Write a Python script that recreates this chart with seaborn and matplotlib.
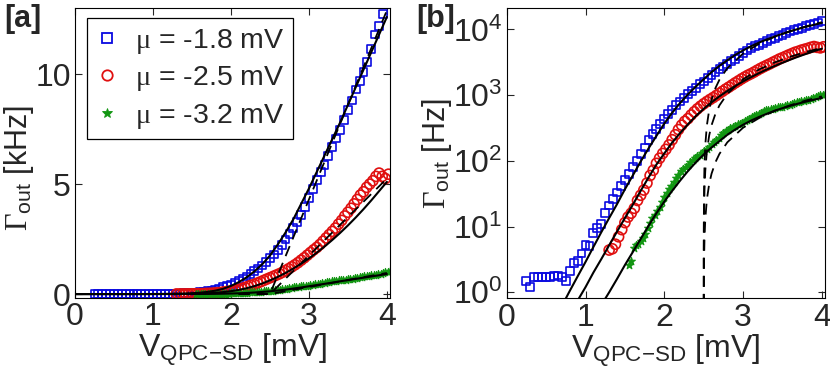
import numpy as np
import pandas as pd
import matplotlib
matplotlib.use("Agg")
import matplotlib.pyplot as plt
import seaborn as sns
from matplotlib.lines import Line2D

# ---------------- data (rates in Hz) ----------------
labels = [r"$\mu$ = -1.8 mV", r"$\mu$ = -2.5 mV", r"$\mu$ = -3.2 mV"]
colors = ["#0a0ae0", "#e01010", "#129612"]

V_blue = np.round(np.arange(0.25, 4.001, 0.05), 2)
rate_blue = [1.5, 1.2, 1.7, 1.7, 1.7, 1.7, 1.7, 1.75, 1.8, 1.7,
             1.5, 2.1, 2.8, 3.0, 3.9, 5.2, 5.0, 7.9, 9.5, 11,
             16, 21, 26, 33, 41, 52, 64, 80, 100, 128,
             160, 205, 255, 305, 360, 430, 510, 600, 700, 800,
             910, 1030, 1160, 1300, 1460, 1620, 1800, 2000, 2230, 2480,
             2740, 3000, 3270, 3580, 3960, 4380, 4780, 5200, 5550, 5880,
             6270, 6680, 7070, 7470, 7900, 8350, 8800, 9300, 9700, 10100,
             10550, 11150, 11800, 12200, 12750, 13500]

V_red = np.round(np.arange(1.30, 4.021, 0.04), 2)
rate_red = [4.4, 4.6, 5.4, 7.0, 9.0, 11.5, 14, 16, 19, 25,
            30, 36, 46, 60, 72, 92, 110, 130, 150, 175,
            210, 250, 300, 350, 400, 440, 500, 560, 620, 680,
            740, 800, 860, 920, 990, 1070, 1150, 1240, 1330, 1430,
            1540, 1650, 1770, 1890, 2010, 2120, 2250, 2400, 2550, 2700,
            2850, 3000, 3180, 3350, 3550, 3720, 3900, 4100, 4300, 4500,
            4650, 4850, 5000, 5150, 5350, 5500, 5350, 5250, 5450]

V_green = np.round(np.arange(1.55, 4.041, 0.03), 2)
rate_green = [2.6, 3.0, 4.8, 5.2, 5.5, 6.0, 6.8, 7.8, 9.5, 11.5,
              13.5, 15, 17, 20, 24, 28, 33, 38, 42, 48,
              55, 62, 70, 76, 82, 88, 95, 105, 112, 118,
              125, 132, 140, 150, 165, 180, 195, 210, 225, 245,
              265, 285, 300, 315, 330, 345, 360, 370, 380, 400,
              420, 440, 460, 480, 500, 520, 545, 565, 585, 600,
              615, 625, 640, 650, 660, 670, 685, 700, 720, 740,
              760, 780, 800, 815, 830, 845, 860, 880, 900, 930,
              960, 990, 1020, 1060]

# solid fit curves
V_fit = np.round(np.arange(0.0, 4.041, 0.1), 1)
fit_blue = [0.018, 0.03, 0.05, 0.08, 0.135, 0.225, 0.37, 0.62, 1.05, 1.75,
            2.9, 4.9, 8.2, 13.5, 22, 37, 60, 98, 155, 240,
            370, 540, 760, 1030, 1350, 1750, 2250, 2800, 3400, 4100,
            4800, 5550, 6300, 7050, 7800, 8600, 9400, 10200, 11000, 11800,
            12600]
fit_red = [0.01, 0.016, 0.026, 0.042, 0.068, 0.11, 0.18, 0.29, 0.46, 0.75,
           1.2, 2.0, 3.2, 5.2, 8.4, 13.5, 21.5, 35, 56, 88,
           130, 190, 265, 360, 480, 620, 780, 960, 1160, 1380,
           1620, 1880, 2160, 2460, 2780, 3120, 3480, 3860, 4260, 4680,
           5100]
fit_green = [0.0025, 0.004, 0.0064, 0.01, 0.016, 0.025, 0.04, 0.064, 0.10, 0.16,
             0.26, 0.40, 0.64, 1.0, 1.6, 2.6, 4.1, 6.5, 10.3, 16,
             24, 35, 50, 70, 95, 125, 160, 200, 250, 300,
             355, 410, 465, 520, 580, 635, 690, 745, 800, 855,
             910]

# dashed (linear-onset) fit curves
V_dash = [2.1, 2.5, 2.501, 2.505, 2.51, 2.52, 2.54, 2.57, 2.6, 2.65,
          2.7, 2.8, 3.0, 3.2, 3.4, 3.6, 3.8, 4.0]
dash_blue = [0, 0, 8.6, 43, 86, 172, 344, 602, 860, 1290,
             1720, 2580, 4300, 6020, 7740, 9460, 11180, 12900]
dash_red = [0, 0, 3.5, 17.5, 35, 70, 140, 245, 350, 525,
            700, 1050, 1750, 2450, 3150, 3850, 4550, 5250]
dash_green = [0, 0, 0.64, 3.2, 6.4, 12.8, 25.6, 44.8, 64, 96,
              128, 192, 320, 448, 576, 704, 832, 960]

# ---------------- style ----------------
sns.set_style("ticks")
plt.rcParams["font.family"] = ["Liberation Sans Narrow", "Liberation Sans", "DejaVu Sans"]
plt.rcParams["mathtext.fontset"] = "custom"
plt.rcParams["mathtext.rm"] = "Liberation Serif"
plt.rcParams["mathtext.it"] = "Liberation Serif"
plt.rcParams["mathtext.sf"] = "Liberation Sans"
plt.rcParams["axes.linewidth"] = 0.8

fig = plt.figure(figsize=(8.3, 3.76), dpi=100)
ax1 = fig.add_axes([0.0904, 0.2074, 0.3795, 0.771])
ax2 = fig.add_axes([0.6105, 0.2065, 0.3835, 0.7714])

series = [
    (V_blue, rate_blue, fit_blue, dash_blue, "s", 32),
    (V_red, rate_red, fit_red, dash_red, "o", 52),
    (V_green, rate_green, fit_green, dash_green, "*", 34),
]

for ax, scale in [(ax1, 1000.0), (ax2, 1.0)]:
    for (V, r, fit, dsh, mk, sz), col in zip(series, colors):
        y = np.asarray(r, float) / scale
        sns.scatterplot(x=V, y=y, marker=mk, s=sz, ax=ax, linewidth=1.2,
                        legend=False, zorder=2)
        coll = ax.collections[-1]
        if mk == "*":
            coll.set_facecolor(col)
            coll.set_edgecolor(col)
            coll.set_linewidth(0.8)
        else:
            coll.set_facecolor("none")
            coll.set_edgecolor(col)
    for (V, r, fit, dsh, mk, sz) in series:
        sns.lineplot(x=V_fit, y=np.asarray(fit, float) / scale, color="k",
                     lw=1.5, ax=ax, estimator=None, sort=False, zorder=3)
        sns.lineplot(x=V_dash, y=np.asarray(dsh, float) / scale, color="k",
                     lw=1.3, ax=ax, estimator=None, sort=False, zorder=3)
        ax.lines[-1].set_dashes([6, 4])

# ---------------- axes ----------------
ax1.set_xlim(0, 4.04)
ax1.set_ylim(-0.18, 13.0)
ax1.set_xticks([0, 1, 2, 3, 4])
ax1.set_yticks([0, 5, 10])

ax2.set_yscale("log")
ax2.set_xlim(0, 4.04)
ax2.set_ylim(0.81, 2.1e4)
ax2.set_xticks([0, 1, 2, 3, 4])
ax2.set_yticks([1, 10, 100, 1000, 10000])

for ax in (ax1, ax2):
    ax.tick_params(which="major", direction="in", length=5, width=0.8,
                   top=True, right=True, labelsize=23, pad=3)
    ax.tick_params(which="minor", direction="in", length=3, width=0.6,
                   top=False, right=True, left=True)
    for sp in ax.spines.values():
        sp.set_color("k")
        sp.set_linewidth(0.8)
    ax.set_xlabel(r"$\mathsf{V}_{\mathsf{QPC{-}SD}}$ [mV]", fontsize=23, labelpad=0)

ax1.set_ylabel(r"$\Gamma_{\mathsf{out}}$ [kHz]", fontsize=22)
ax2.set_ylabel(r"$\Gamma_{\mathsf{out}}$ [Hz]", fontsize=22)
ax1.yaxis.set_label_coords(-0.125, 0.45)
ax2.yaxis.set_label_coords(-0.165, 0.5)

handles = [
    Line2D([], [], ls="", marker="s", mfc="none", mec=colors[0], ms=6.5, mew=1.3),
    Line2D([], [], ls="", marker="o", mfc="none", mec=colors[1], ms=7.5, mew=1.3),
    Line2D([], [], ls="", marker="*", mfc=colors[2], mec=colors[2], ms=7.5, mew=0.6),
]
leg = ax1.legend(handles, labels, loc="upper left", bbox_to_anchor=(0.038, 0.966),
                 borderaxespad=0, fontsize=20.5, frameon=True, fancybox=False,
                 edgecolor="k", framealpha=1, handlelength=0.8, handletextpad=0.6,
                 labelspacing=0.3, borderpad=0.3)
leg.get_frame().set_linewidth(0.9)

fig.text(0.005, 0.99, "[a]", fontsize=22, fontweight="bold", va="top", ha="left",
         family=["Liberation Sans", "DejaVu Sans"])
fig.text(0.502, 0.99, "[b]", fontsize=22, fontweight="bold", va="top", ha="left",
         family=["Liberation Sans", "DejaVu Sans"])

fig.savefig("out.png", dpi=100)
